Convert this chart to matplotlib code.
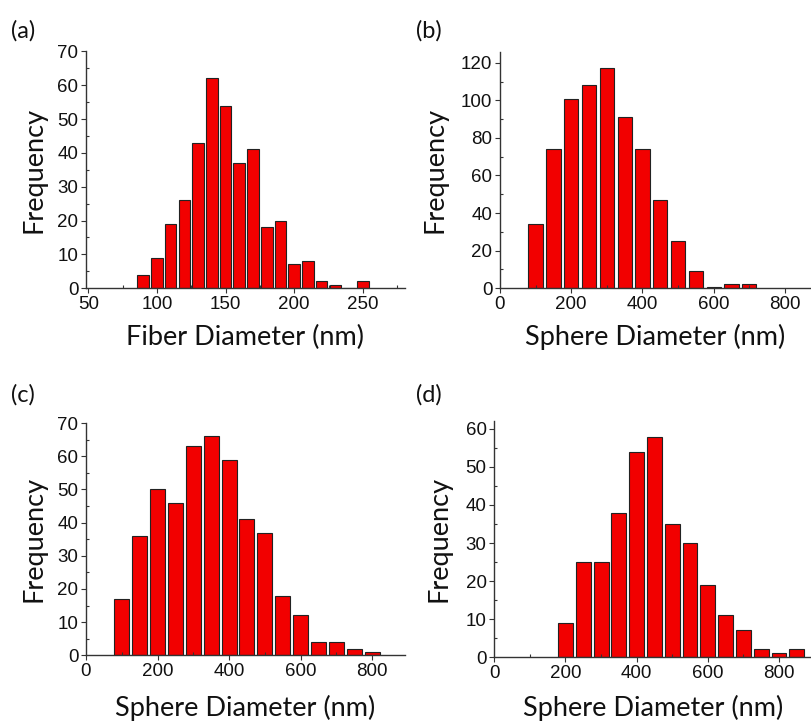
import matplotlib.pyplot as plt
from matplotlib.ticker import MultipleLocator

plt.rcParams['font.family'] = ['Liberation Sans', 'DejaVu Sans']

# (a) fiber diameters
fiber_centers = [90, 100, 110, 120, 130, 140, 150, 160, 170, 180, 190, 200, 210, 220, 230, 240, 250]
fiber_counts = [4, 9, 19, 26, 43, 62, 54, 37, 41, 18, 20, 7, 8, 2, 1, 0, 2]

# (b) sphere diameters
b_centers = [100, 150, 200, 250, 300, 350, 400, 450, 500, 550, 600, 650, 700]
b_counts = [34, 74, 101, 108, 117, 91, 74, 47, 25, 9, 0.5, 2, 2]

# (c) sphere diameters
c_centers = [100, 150, 200, 250, 300, 350, 400, 450, 500, 550, 600, 650, 700, 750, 800]
c_counts = [17, 36, 50, 46, 63, 66, 59, 41, 37, 18, 12, 4, 4, 2, 1]

# (d) sphere diameters
d_centers = [200, 250, 300, 350, 400, 450, 500, 550, 600, 650, 700, 750, 800, 850]
d_counts = [9, 25, 25, 38, 54, 58, 35, 30, 19, 11, 7, 2, 1, 2]

fig = plt.figure(figsize=(8.11, 7.24), dpi=100)

panels = [
    # rect, centers, counts, width, xlim, ylim, xmaj, xmin, ymaj, ymin, xlabel, tag, tagpos, xpad, ypad
    ([0.106, 0.602, 0.393, 0.327], fiber_centers, fiber_counts, 8.5, (48.3, 280.5), (0, 70),
     50, 25, 10, 5, 'Fiber Diameter (nm)', '(a)', (0.014, 0.958), 9, 8),
    ([0.6165, 0.602, 0.3835, 0.326], b_centers, b_counts, 40, (0, 873), (0, 125.7),
     200, 100, 20, 10, 'Sphere Diameter (nm)', '(b)', (0.513, 0.958), 8, 10),
    ([0.106, 0.0949, 0.3934, 0.3208], c_centers, c_counts, 42, (0, 892), (0, 70),
     200, 100, 10, 5, 'Sphere Diameter (nm)', '(c)', (0.014, 0.455), 11, 8),
    ([0.6095, 0.0925, 0.3905, 0.3255], d_centers, d_counts, 42, (0, 890), (0, 62),
     200, 100, 10, 5, 'Sphere Diameter (nm)', '(d)', (0.513, 0.454), 9.5, 10),
]

for rect, xs, ys, w, xl, yl, xmaj, xmin, ymaj, ymin, xlab, tag, tagpos, xpad, ypad in panels:
    ax = fig.add_axes(rect)
    ax.bar(xs, ys, width=w, color='#f20000', edgecolor='#222222', linewidth=0.8)
    ax.set_xlim(*xl)
    ax.set_ylim(*yl)
    ax.xaxis.set_major_locator(MultipleLocator(xmaj))
    ax.xaxis.set_minor_locator(MultipleLocator(xmin))
    ax.yaxis.set_major_locator(MultipleLocator(ymaj))
    ax.yaxis.set_minor_locator(MultipleLocator(ymin))
    for s in ['top', 'right']:
        ax.spines[s].set_visible(False)
    for s in ['left', 'bottom']:
        ax.spines[s].set_color('#333333')
        ax.spines[s].set_linewidth(1.0)
    ax.tick_params(which='major', direction='out', length=3.5, width=0.8,
                   labelsize=13.5, pad=2, colors='#333333', labelcolor='#111111')
    ax.tick_params(which='minor', direction='in', length=2.5, width=0.8, colors='#333333')
    ax.set_xlabel(xlab, fontsize=19.5, family='Lato', labelpad=xpad, color='#111111')
    ax.set_ylabel('Frequency', fontsize=19.5, family='Lato', labelpad=ypad, color='#111111')
    fig.text(tagpos[0], tagpos[1], tag, fontsize=17, family='Lato', va='center', color='#111111')

fig.savefig('out.png', dpi=100)
